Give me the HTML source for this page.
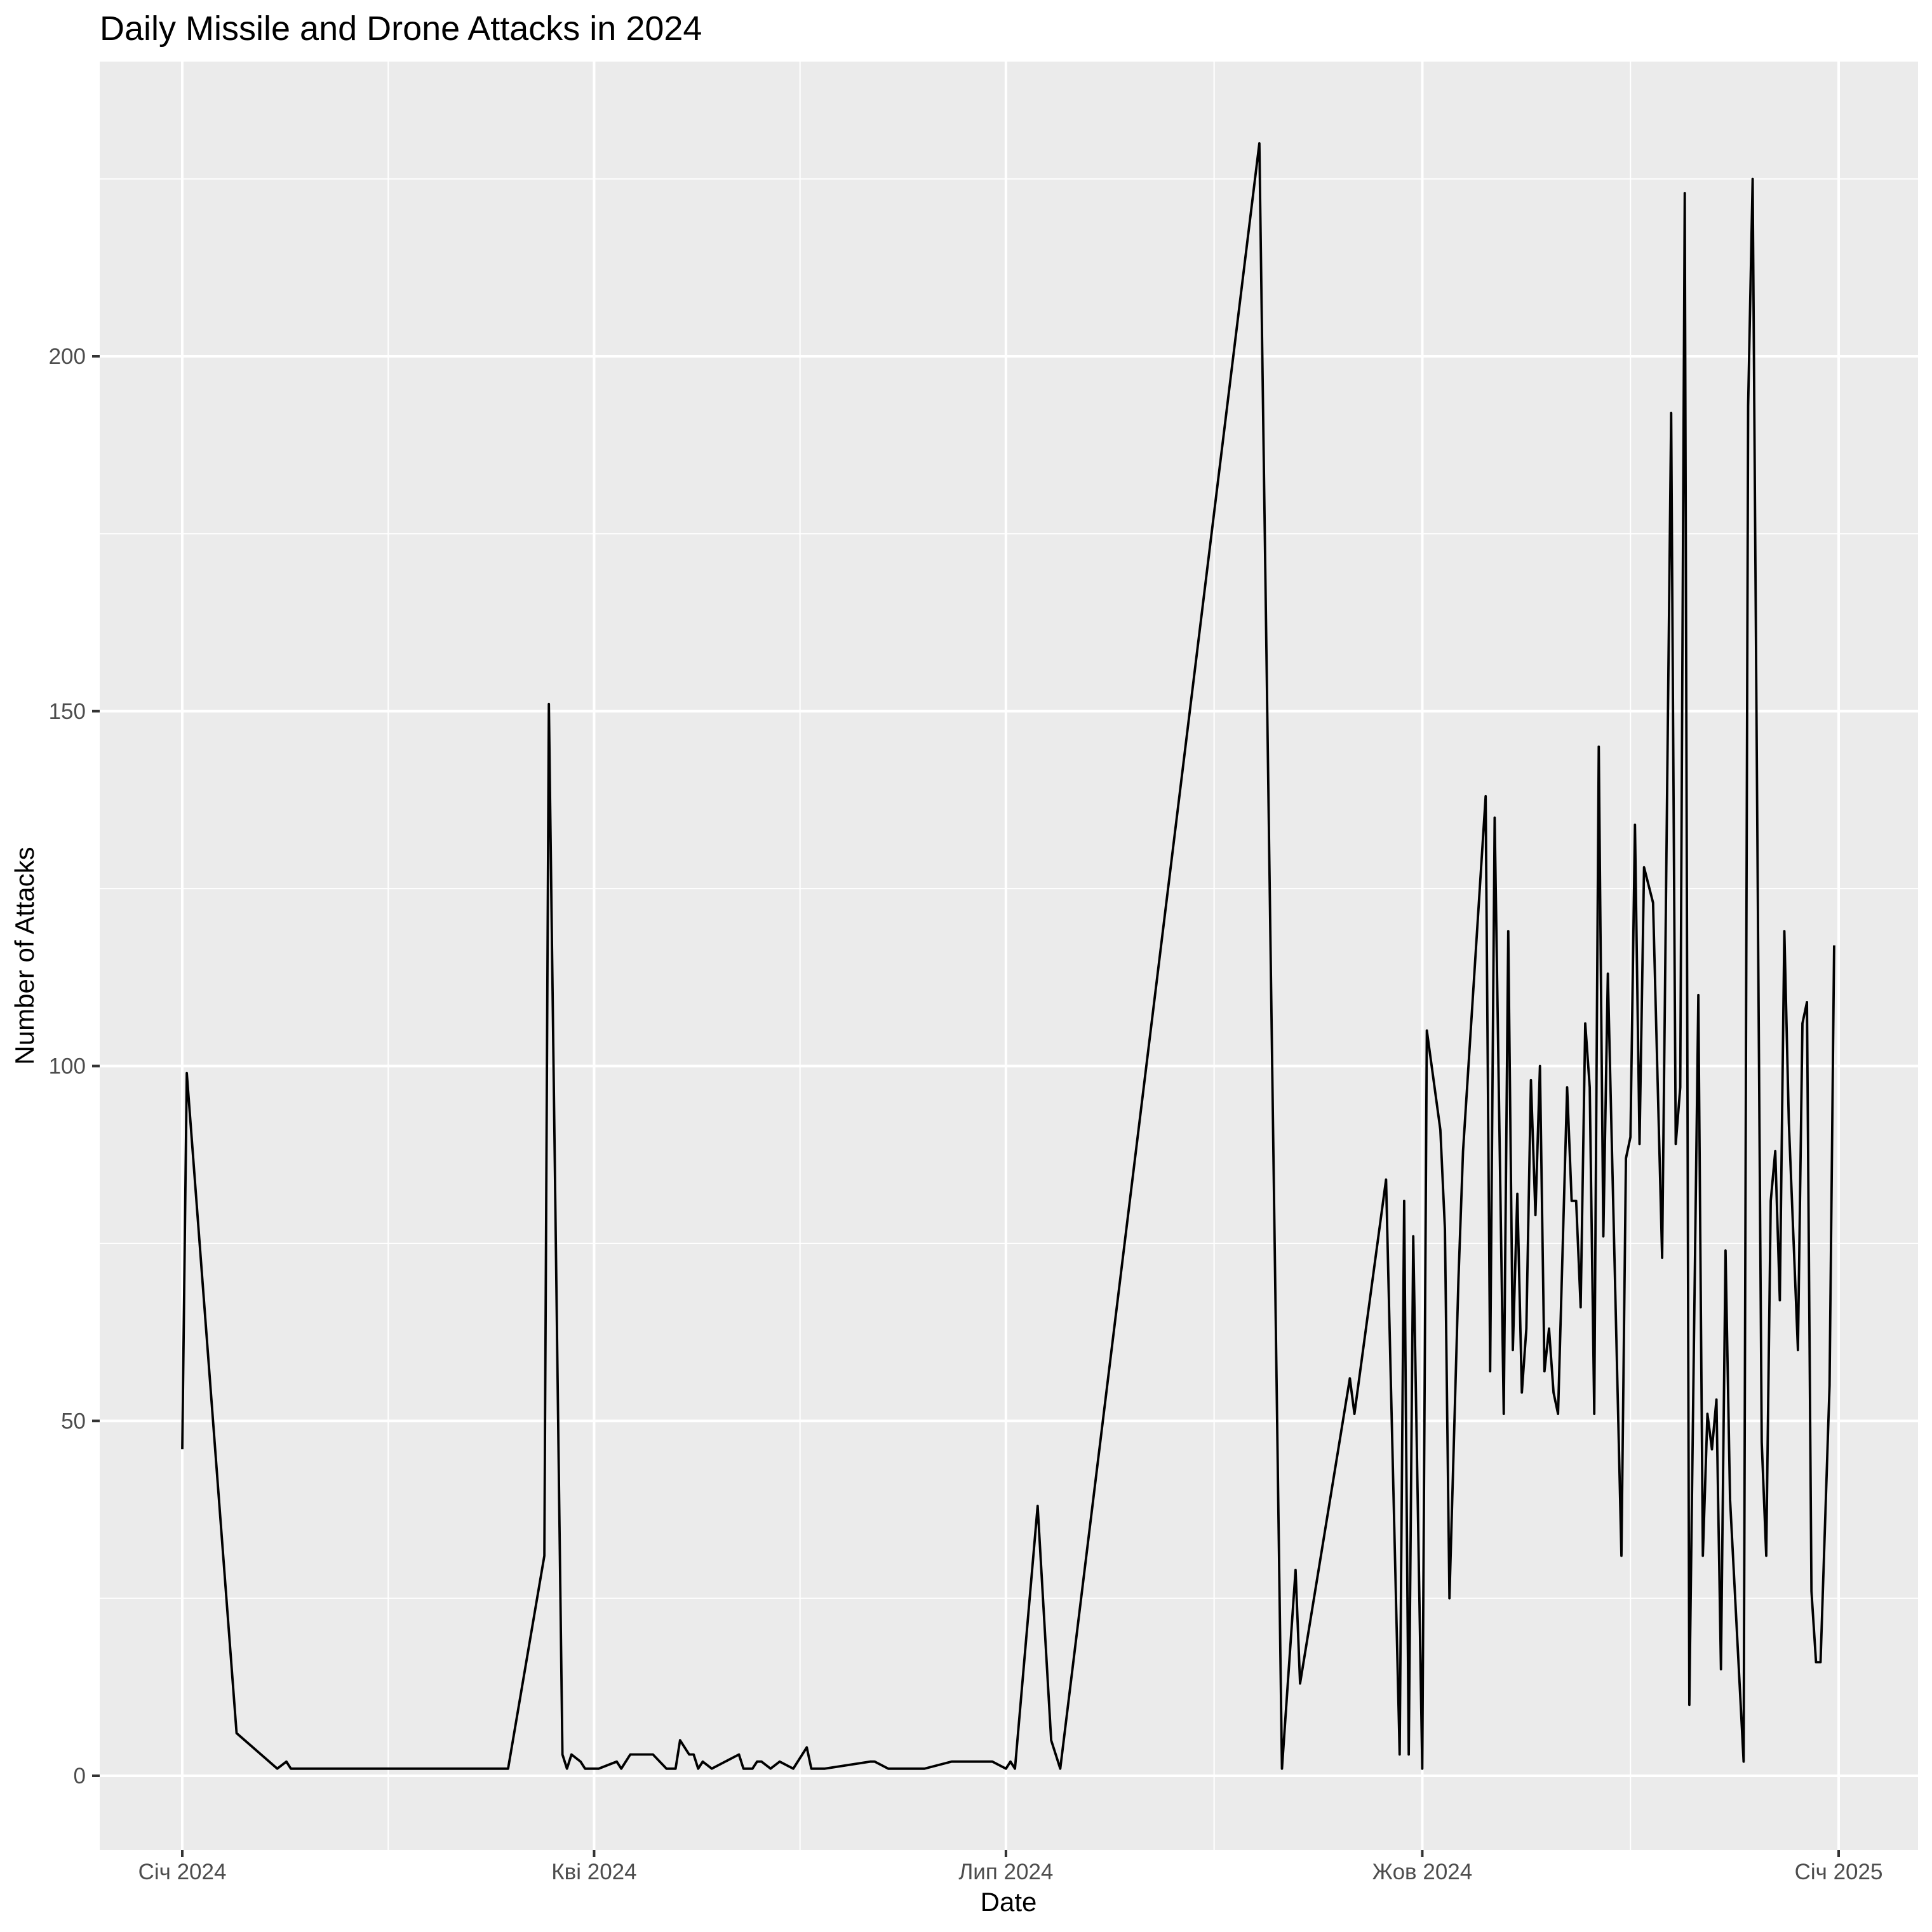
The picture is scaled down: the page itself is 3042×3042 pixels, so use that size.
<!DOCTYPE html>
<html><head><meta charset="utf-8"><style>
html,body{margin:0;padding:0;background:#fff;}
svg{display:block;font-family:"Liberation Sans","Noto Sans CJK SC",sans-serif;}
</style></head><body>
<svg id="chart" width="3042" height="3042" viewBox="0 0 3042 3042" xmlns="http://www.w3.org/2000/svg">
<rect x="0" y="0" width="3042" height="3042" fill="#ffffff"/>
<rect x="157" y="97" width="2863" height="2816" fill="#ebebeb"/>
<g id="grid"></g>
<g id="series"></g>
<g id="axes"></g>
<text x="157" y="63" font-size="54" fill="#000">Daily Missile and Drone Attacks in 2024</text>
<text x="1588" y="3009" font-size="42" fill="#000" text-anchor="middle">Date</text>
<text transform="translate(53,1505) rotate(-90)" font-size="42" fill="#000" text-anchor="middle">Number of Attacks</text>
</svg>
<script>
// Data: day offset from 2024-01-01 and attack counts
const days = [0,1,12,21,23,24,72,80,81,84,85,86,88,89,92,96,97,99,104,107,109,110,112,113,114,115,117,123,124,126,127,128,130,132,135,138,139,142,152,153,156,164,170,179,182,183,184,189,192,194,238,243,246,247,258,259,266,269,270,271,272,274,275,278,279,280,282,283,288,289,290,292,293,294,295,296,297,298,299,300,301,302,303,304,306,307,308,309,310,311,312,313,314,315,318,319,320,321,322,323,325,327,329,330,331,332,333,335,336,337,338,339,340,341,342,345,346,347,349,350,351,352,353,354,355,357,358,359,360,361,362,364,365];
const attacks = [46,99,6,1,2,1,1,31,151,3,1,3,2,1,1,2,1,3,3,1,1,5,3,3,1,2,1,3,1,1,2,2,1,2,1,4,1,1,2,2,1,1,2,2,1,2,1,38,5,1,230,1,29,13,56,51,84,3,81,3,76,1,105,91,77,25,70,88,138,57,135,51,119,60,82,54,63,98,79,100,57,63,54,51,97,81,81,66,106,97,51,145,76,113,31,87,90,134,89,128,123,73,192,89,97,223,10,110,31,51,46,53,15,74,39,2,193,225,47,31,81,88,67,119,92,60,106,109,26,16,16,55,117];
const xTickDays = [0,91,182,274,366];
const xTickLabels = ["Січ 2024","Кві 2024","Лип 2024","Жов 2024","Січ 2025"];
const xMinorDays = [45.5,136.5,228,320];
const yTicks = [0,50,100,150,200];
const yMinor = [25,75,125,175,225];

const NS = "http://www.w3.org/2000/svg";
const PL = 157, PR = 3020, PT = 97, PB = 2913;
function xs(d){ return 287 + d * (2895 - 287) / 366; }
function ys(v){ return 2796 - v * 11.175; }
function mk(tag, attrs, parent){
  const e = document.createElementNS(NS, tag);
  for (const k in attrs) e.setAttribute(k, attrs[k]);
  parent.appendChild(e); return e;
}
const grid = document.getElementById('grid');
const axes = document.getElementById('axes');
const series = document.getElementById('series');

yMinor.forEach(v => {
  const l = mk('line', {x1:PL, x2:PR, y1:ys(v), y2:ys(v), stroke:'#fff', 'stroke-width':2}, grid);
  
  
});
xMinorDays.forEach(d => {
  const l = mk('line', {x1:xs(d), x2:xs(d), y1:PT, y2:PB, stroke:'#fff', 'stroke-width':2}, grid);
  
  
});
yTicks.forEach(v => {
  const l = mk('line', {x1:PL, x2:PR, y1:ys(v), y2:ys(v), stroke:'#fff', 'stroke-width':4}, grid);
  
  
  const t = mk('line', {x1:145, x2:PL, y1:ys(v), y2:ys(v), stroke:'#333', 'stroke-width':4}, axes);
  
  
  const tx = mk('text', {x:135, y:ys(v)+12, 'font-size':35, fill:'#4d4d4d', 'text-anchor':'end'}, axes);
  tx.textContent = String(v);
  
  
});
xTickDays.forEach((d, i) => {
  const l = mk('line', {x1:xs(d), x2:xs(d), y1:PT, y2:PB, stroke:'#fff', 'stroke-width':4}, grid);
  
  
  const t = mk('line', {x1:xs(d), x2:xs(d), y1:PB, y2:PB+11, stroke:'#333', 'stroke-width':4}, axes);
  
  
  const tx = mk('text', {x:xs(d), y:2959, 'font-size':35, fill:'#4d4d4d', 'text-anchor':'middle'}, axes);
  tx.textContent = xTickLabels[i];
  
  
});
const pts = days.map((d, i) => xs(d).toFixed(1) + ',' + ys(attacks[i]).toFixed(1)).join(' ');
const pl = mk('polyline', {points:pts, fill:'none', stroke:'#000', 'stroke-width':3.8, 'stroke-linejoin':'round', 'stroke-linecap':'butt'}, series);


</script>
</body></html>
